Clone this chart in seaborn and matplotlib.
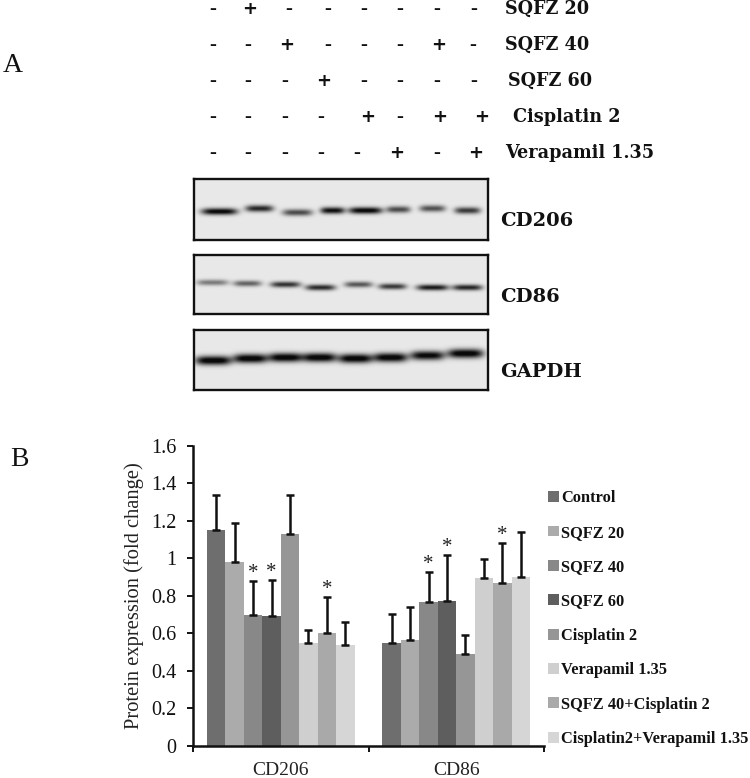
import numpy as np
import pandas as pd
import matplotlib
matplotlib.use("Agg")
import matplotlib.pyplot as plt
import seaborn as sns

# ---- data ----
targets = ["CD206", "CD86"]
treatments = ["Control", "SQFZ 20", "SQFZ 40", "SQFZ 60", "Cisplatin 2",
              "Verapamil 1.35", "SQFZ 40+Cisplatin 2", "Cisplatin2+Verapamil 1.35"]
colors = ["#6e6e6e", "#ababab", "#888888", "#5e5e5e", "#969696", "#cfcfcf", "#a9a9a9", "#d6d6d6"]
cd206_vals = [1.15, 0.98, 0.70, 0.69, 1.13, 0.55, 0.60, 0.54]
cd206_tops = [1.34, 1.19, 0.88, 0.885, 1.34, 0.62, 0.795, 0.66]
cd86_vals = [0.55, 0.565, 0.765, 0.77, 0.49, 0.895, 0.87, 0.90]
cd86_tops = [0.705, 0.74, 0.925, 1.02, 0.59, 0.995, 1.08, 1.14]
cd206_star = [0, 0, 1, 1, 0, 0, 1, 0]
cd86_star = [0, 0, 1, 1, 0, 0, 1, 0]
y_ticks = [0, 0.2, 0.4, 0.6, 0.8, 1, 1.2, 1.4, 1.6]
y_ticklabels = ["0", "0.2", "0.4", "0.6", "0.8", "1", "1.2", "1.4", "1.6"]

row_labels = ["SQFZ 20", "SQFZ 40", "SQFZ 60", "Cisplatin 2", "Verapamil 1.35"]
row_signs = ["-+------", "--+---+-", "---+----", "----+-++", "-----+-+"]
row_x = [[213, 250, 289, 328, 364, 400, 437, 474],
         [213, 248, 287, 328, 364, 400, 439, 473],
         [213, 248, 285, 324, 364, 400, 437, 474],
         [213, 248, 285, 321, 368, 400, 440, 482],
         [213, 248, 285, 321, 357, 397, 437, 476]]
row_y = [9, 45, 81, 117, 153]
row_label_x = [505, 505, 508, 513, 505]

blot_names = ["CD206", "CD86", "GAPDH"]
blot_lane_x = [[25, 65, 103, 138, 171, 204, 238, 273],
               [18, 53, 91, 126, 164, 198, 238, 273],
               [19, 56, 91, 125, 161, 196, 233, 271]]
blot_lane_y = [[32, 29, 33, 31, 31, 30, 29, 31],
               [27, 28, 29, 32, 29, 31, 32, 32],
               [30, 28, 27, 27, 28, 27, 25, 23]]
blot_lane_w = [[18, 14, 15, 12, 17, 12, 13, 13],
               [16, 14, 15, 15, 14, 14, 16, 15],
               [18, 17, 17, 17, 17, 17, 17, 18]]
blot_signal = [[0.95, 0.80, 0.65, 0.90, 0.95, 0.65, 0.62, 0.72],
               [0.45, 0.55, 0.75, 0.78, 0.60, 0.72, 0.85, 0.80],
               [1.00, 1.00, 1.00, 1.00, 1.00, 1.00, 0.95, 1.00]]
blot_height = [3.4, 3.0, 4.6]

W, H = 750, 778
sns.set_style("white")
plt.rcParams["font.family"] = ["Liberation Serif", "DejaVu Serif"]

fig = plt.figure(figsize=(W / 100, H / 100), dpi=100, facecolor="white")


def fx(x):
    return x / W


def fy(y):
    return 1 - y / H


def px_axes(l, t, r, b):
    return fig.add_axes([fx(l), fy(b), (r - l) / W, (b - t) / H])


# ---- treatment matrix ----
for signs, xs, y, label, lx in zip(row_signs, row_x, row_y, row_labels, row_label_x):
    for s, x in zip(signs, xs):
        if s == "+":
            fig.text(fx(x), fy(y), "+", fontsize=13, fontweight="bold", ha="center", va="center",
                     family=["DejaVu Sans"], color="#111111")
        else:
            fig.text(fx(x), fy(y), "-", fontsize=15, fontweight="bold", ha="center", va="center", color="#111111")
    fig.text(fx(lx), fy(y), label, fontsize=12.7, fontweight="bold", ha="left", va="center",
             family=["DejaVu Serif"], color="#111111")

fig.text(fx(3), fy(65), "A", fontsize=20, ha="left", va="center", color="#111111")
fig.text(fx(10), fy(459), "B", fontsize=20, ha="left", va="center", color="#111111")

# ---- blots ----
blot_boxes = [(194, 179, 488, 240), (194, 255, 488, 314), (194, 330, 488, 390)]
label_y = [221, 297, 372]
for k, (box, name) in enumerate(zip(blot_boxes, blot_names)):
    l, t, r, b = box
    axb = px_axes(l, t, r, b)
    h, w = b - t, r - l
    yy, xx = np.mgrid[0:h, 0:w]
    img = np.full((h, w), 0.91)
    for cx, cy, hw, s in zip(blot_lane_x[k], blot_lane_y[k], blot_lane_w[k], blot_signal[k]):
        prof_x = np.exp(-np.abs((xx - cx) / hw) ** 4)
        prof_y = np.exp(-((yy - cy) / blot_height[k]) ** 2)
        img -= 0.95 * s * prof_x * prof_y
    sns.heatmap(np.clip(img, 0.04, 1), ax=axb, cmap="gray", vmin=0, vmax=1, cbar=False,
                xticklabels=False, yticklabels=False, rasterized=True)
    for sp in axb.spines.values():
        sp.set_visible(True)
        sp.set_linewidth(1.7)
        sp.set_color("#111111")
    fig.text(fx(500), fy(label_y[k]), name, fontsize=14, fontweight="bold", va="center",
             family=["DejaVu Serif"], color="#111111")

# ---- bar chart ----
ax = px_axes(193, 446, 544, 745.7)
df = pd.DataFrame({
    "target": np.repeat(targets, len(treatments)),
    "treatment": treatments * 2,
    "value": cd206_vals + cd86_vals,
    "top": cd206_tops + cd86_tops,
    "star": cd206_star + cd86_star,
})
sns.barplot(data=df, x="target", y="value", hue="treatment", hue_order=treatments,
            palette=colors, width=0.843, gap=0, errorbar=None, saturation=1, ax=ax,
            linewidth=0, dodge=True)
ax.set_xlim(-0.5, 1.5)
ax.set_ylim(0, 1.6)

for i, t in enumerate(treatments):
    cont = ax.containers[i]
    rows = df[df.treatment == t].sort_values("target", key=lambda c: c.map({n: j for j, n in enumerate(targets)}))
    for bar, v, top, star in zip(cont, rows.value, rows.top, rows.star):
        cx = bar.get_x() + bar.get_width() / 2
        ax.errorbar(cx, v, yerr=[[0], [top - v]], color="#111111", elinewidth=1.8, capsize=3.2,
                    capthick=1.8, zorder=4, fmt="none")
        if star:
            ax.text(cx, top - 0.01, "*", fontsize=15, ha="center", va="bottom", color="#222222")

sns.despine(ax=ax)
for sp in ("left", "bottom"):
    ax.spines[sp].set_linewidth(1.8)
    ax.spines[sp].set_color("#111111")
ax.set_yticks(y_ticks, y_ticklabels, fontsize=14.5, color="#111111")
ax.set_xticks([-0.5, 0.5, 1.5], minor=False)
ax.set_xticklabels([])
ax.tick_params(axis="both", which="major", direction="out", length=4, width=1.4, color="#111111",
               left=True, bottom=True)
ax.tick_params(axis="y", pad=8)
for j, n in enumerate(targets):
    ax.annotate(n, (j, 0), xycoords=("data", "axes fraction"), xytext=(0, -18), textcoords="offset points",
                ha="center", va="center", fontsize=14, color="#222222")
ax.set_xlabel("")
ax.set_ylabel("Protein expression (fold change)", fontsize=14.8, color="#222222", labelpad=5)

handles, labels = ax.get_legend_handles_labels()
ax.legend_.remove()
leg = fig.legend(handles, labels, loc="upper left", bbox_to_anchor=(fx(543), fy(485.5)), frameon=False,
                 prop={"family": "Liberation Serif", "weight": "bold", "size": 11.8},
                 handlelength=0.65, handleheight=0.65, handletextpad=0.15, labelspacing=1.12,
                 borderpad=0.3, borderaxespad=0)
for txt in leg.get_texts():
    txt.set_color("#111111")

fig.savefig("out.png", dpi=100, facecolor="white")
